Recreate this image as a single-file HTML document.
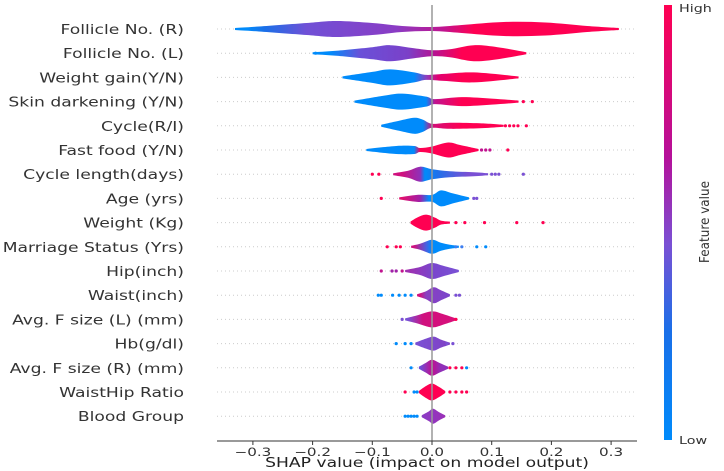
<!DOCTYPE html>
<html><head><meta charset="utf-8"><style>
body{margin:0;background:#fff}
svg{display:block;font-family:"DejaVu Sans","Liberation Sans",sans-serif}
</style></head><body>
<svg id="chart" width="724" height="471" viewBox="0 0 724 471" xmlns="http://www.w3.org/2000/svg">
<defs>
<linearGradient id="cbar" x1="0" y1="1" x2="0" y2="0">
<stop offset="0" stop-color="#008bfb"/><stop offset="0.25" stop-color="#1a6fe8"/><stop offset="0.45" stop-color="#7a50d4"/><stop offset="0.65" stop-color="#b5109a"/><stop offset="1" stop-color="#ff0052"/>
</linearGradient>
</defs>
<g id="grid"></g>
<g id="violins"></g>
<g id="axis"></g>
<rect x="664" y="5" width="8" height="435" fill="url(#cbar)"/>
<text transform="translate(679,12) scale(1.3,1)" font-size="11" fill="#333">High</text>
<text transform="translate(679,444) scale(1.3,1)" font-size="11" fill="#333">Low</text>
<text transform="translate(709,222) rotate(-90) scale(1,1.1)" text-anchor="middle" font-size="12" fill="#333">Feature value</text>
</svg>
<script>
const features=["Follicle No. (R)","Follicle No. (L)","Weight gain(Y/N)","Skin darkening (Y/N)","Cycle(R/I)","Fast food (Y/N)","Cycle length(days)","Age (yrs)","Weight (Kg)","Marriage Status (Yrs)","Hip(inch)","Waist(inch)","Avg. F size (L) (mm)","Hb(g/dl)","Avg. F size (R) (mm)","WaistHip Ratio","Blood Group"];
const ticks=[-0.3,-0.2,-0.1,0.0,0.1,0.2,0.3];
const tickLabels=["\u22120.3","\u22120.2","\u22120.1","0.0","0.1","0.2","0.3"];
// violin shapes: [shap value, half width px]
const shapes=[
[[-0.33,1],[-0.29,2.5],[-0.21,6],[-0.16,8],[-0.1,6],[-0.05,3],[0,2],[0.05,4],[0.12,7],[0.19,6.5],[0.26,3],[0.313,1]],
[[-0.2,1],[-0.16,2.5],[-0.1,6],[-0.07,8],[-0.03,5],[0,3],[0.03,4],[0.07,8],[0.11,6],[0.158,1]],
[[-0.15,1],[-0.1,5.5],[-0.07,8],[-0.03,5],[-0.01,2.5],[0.02,3.5],[0.07,5],[0.145,1]],
[[-0.13,1],[-0.08,6],[-0.05,8],[-0.01,5],[0.005,2.5],[0.05,4.5],[0.1,3],[0.145,1]],
[[-0.085,1],[-0.055,5],[-0.03,8],[-0.015,6],[0,2],[0.03,3],[0.08,2.5],[0.12,1]],
[[-0.11,1],[-0.06,4],[-0.03,4],[-0.02,2],[0,3.5],[0.027,7.5],[0.047,5],[0.078,1]],
[[-0.065,1],[-0.04,3.5],[-0.02,7.5],[0,5],[0.03,3],[0.07,2],[0.094,1]],
[[-0.055,1],[-0.025,3.5],[0,3.5],[0.015,8],[0.035,5],[0.062,1]],
[[-0.036,1],[-0.025,5],[-0.01,8],[0.005,5],[0.015,2],[0.03,1]],
[[-0.035,1],[-0.02,3],[0,7],[0.015,4],[0.03,2],[0.045,1]],
[[-0.045,1],[-0.02,4],[0,8],[0.02,5],[0.045,1]],
[[-0.025,1],[-0.01,4],[0.003,8],[0.015,5],[0.03,1]],
[[-0.045,1],[-0.025,4],[0,8],[0.02,5],[0.04,1]],
[[-0.028,1],[-0.01,5],[0.003,7],[0.015,4],[0.03,1]],
[[-0.022,1],[-0.01,5],[0,8],[0.012,5],[0.027,1]],
[[-0.022,1],[-0.01,6],[0,8.5],[0.012,5],[0.022,1]],
[[-0.017,1],[-0.005,5],[0.002,7.5],[0.012,4],[0.022,1]]
];
// color stops: [shap value, color]
const colorStops=[
[[-0.31,"#008bfb"],[-0.28,"#1a6fe8"],[-0.21,"#7050d6"],[-0.06,"#8a3cc4"],[0.02,"#c0148f"],[0.07,"#ff0052"]],
[[-0.17,"#008bfb"],[-0.12,"#6a50d8"],[-0.04,"#7b40c8"],[0.0,"#b01598"],[0.05,"#ff0052"]],
[[-0.03,"#008bfb"],[-0.01,"#8a40c0"],[0.01,"#e00070"],[0.05,"#ff0052"]],
[[-0.01,"#008bfb"],[0.005,"#c0148f"],[0.05,"#ff0052"]],
[[-0.015,"#008bfb"],[0,"#d0107a"],[0.05,"#ff0052"]],
[[-0.03,"#008bfb"],[-0.02,"#ff0052"]],
[[-0.05,"#d0107e"],[-0.02,"#9030b8"],[-0.012,"#008bfb"],[0.01,"#2070ea"],[0.06,"#7a50d4"]],
[[-0.05,"#e0106e"],[-0.02,"#a020a8"],[-0.005,"#008bfb"]],
[[-0.03,"#ff0052"],[0.03,"#ff0052"]],
[[-0.03,"#d0107e"],[-0.01,"#4a60e0"],[0,"#008bfb"]],
[[-0.04,"#a030b0"],[0,"#7a45cc"],[0.04,"#7a50d4"]],
[[-0.02,"#d0107e"],[-0.01,"#8a40c0"],[0.03,"#7a45cc"]],
[[-0.04,"#7a50d4"],[-0.015,"#d0107e"],[0.04,"#d8107a"]],
[[-0.025,"#7a50d4"],[0.03,"#8040c4"]],
[[-0.02,"#6a50d8"],[0,"#c01090"],[0.015,"#9030b8"]],
[[-0.02,"#ff0052"],[0.02,"#ff0052"]],
[[-0.017,"#8a3cc4"],[0.02,"#9a30b8"]]
];
// outlier dots: [shap value, color]
const dots=[
[],
[[-0.195,"#008bfb"]],
[],
[[0.153,"#ff0052"],[0.168,"#ff0052"]],
[[0.123,"#ff0052"],[0.13,"#ff0052"],[0.137,"#ff0052"],[0.144,"#ff0052"],[0.158,"#ff0052"]],
[[0.083,"#c0148f"],[0.09,"#c0148f"],[0.097,"#c0148f"],[0.127,"#ff0052"]],
[[-0.1,"#ff0052"],[-0.089,"#ff0052"],[0.1,"#7a50d4"],[0.106,"#7a50d4"],[0.112,"#7a50d4"],[0.153,"#7a50d4"]],
[[-0.085,"#ff0052"],[0.07,"#7a50d4"],[0.075,"#7a50d4"]],
[[0.04,"#ff0052"],[0.055,"#ff0052"],[0.088,"#ff0052"],[0.142,"#ff0052"],[0.186,"#ff0052"]],
[[-0.075,"#ff0052"],[-0.06,"#ff0052"],[-0.053,"#ff0052"],[0.04,"#3d7ef0"],[0.05,"#3d7ef0"],[0.075,"#008bfb"],[0.09,"#008bfb"]],
[[-0.085,"#c0148f"],[-0.067,"#a020a8"],[-0.06,"#a020a8"],[-0.05,"#c0148f"]],
[[-0.09,"#008bfb"],[-0.085,"#008bfb"],[-0.066,"#008bfb"],[-0.055,"#008bfb"],[-0.045,"#008bfb"],[-0.035,"#008bfb"],[0.04,"#7a50d4"],[0.046,"#7a50d4"]],
[[-0.05,"#7a50d4"],[0.04,"#ff0052"]],
[[-0.06,"#008bfb"],[-0.045,"#008bfb"],[-0.035,"#008bfb"],[0.025,"#7a50d4"],[0.035,"#7a50d4"]],
[[-0.035,"#008bfb"],[0.03,"#ff0052"],[0.04,"#ff0052"],[0.05,"#ff0052"],[0.058,"#008bfb"]],
[[-0.045,"#ff0052"],[-0.03,"#008bfb"],[-0.025,"#008bfb"],[0.03,"#ff0052"],[0.04,"#ff0052"],[0.05,"#ff0052"],[0.058,"#ff0052"]],
[[-0.045,"#008bfb"],[-0.04,"#008bfb"],[-0.035,"#008bfb"],[-0.03,"#008bfb"],[-0.025,"#008bfb"]]
];
const NS="http://www.w3.org/2000/svg";
const X0=432,SC=597,Y0=29,DY=24.2,L=217,R=637,AY=441,SX=1.32;
const xs=v=>X0+v*SC;
const ys=i=>Y0+i*DY;
function mk(tag,attrs,parent){const e=document.createElementNS(NS,tag);for(const k in attrs)e.setAttribute(k,attrs[k]);parent.appendChild(e);return e;}
const svg=document.getElementById('chart');
const defs=svg.querySelector('defs');
const grid=document.getElementById('grid'),vg=document.getElementById('violins'),ax=document.getElementById('axis');
function spline(pts){let d="M"+pts[0][0]+","+pts[0][1];for(let i=0;i<pts.length-1;i++){const p0=pts[i-1]||pts[i],p1=pts[i],p2=pts[i+1],p3=pts[i+2]||p2;const c1=[p1[0]+(p2[0]-p0[0])/6,p1[1]+(p2[1]-p0[1])/6],c2=[p2[0]-(p3[0]-p1[0])/6,p2[1]-(p3[1]-p1[1])/6];d+="C"+c1[0].toFixed(2)+","+c1[1].toFixed(2)+" "+c2[0].toFixed(2)+","+c2[1].toFixed(2)+" "+p2[0].toFixed(2)+","+p2[1].toFixed(2);}return d;}
features.forEach((f,i)=>{
const y=ys(i);
const gl=mk('line',{x1:L,x2:R,y1:y,y2:y,stroke:'#ccc','stroke-width':1,'stroke-dasharray':'1,3'},grid);


const lab=mk('text',{transform:'translate(184,'+(y+5)+') scale('+SX+',1)','text-anchor':'end','font-size':13,fill:'#333'},svg);
lab.textContent=f;


const gid='g'+i;
const lg=mk('linearGradient',{id:gid,gradientUnits:'userSpaceOnUse',x1:xs(colorStops[i][0][0]),x2:xs(colorStops[i][colorStops[i].length-1][0]),y1:0,y2:0},defs);
const a=colorStops[i][0][0],b=colorStops[i][colorStops[i].length-1][0];
colorStops[i].forEach(s=>mk('stop',{offset:b===a?0:(s[0]-a)/(b-a),'stop-color':s[1]},lg));
const top=shapes[i].map(p=>[xs(p[0]),y-p[1]]);
const bot=shapes[i].slice().reverse().map(p=>[xs(p[0]),y+p[1]]);
const d=spline(top)+"L"+spline(bot).slice(1)+"Z";
const v=mk('path',{d:d,fill:'url(#'+gid+')'},vg);


dots[i].forEach(p=>{
const c=mk('circle',{cx:xs(p[0]),cy:y,r:1.6,fill:p[1]},vg);


});
});
const zl=mk('line',{x1:X0,x2:X0,y1:5,y2:AY,stroke:'#999','stroke-width':1.5},vg);


const al=mk('line',{x1:L,x2:R,y1:AY,y2:AY,stroke:'#333','stroke-width':1},ax);


ticks.forEach((t,k)=>{
const tl=mk('line',{x1:xs(t),x2:xs(t),y1:AY,y2:AY+4,stroke:'#333'},ax);


const tt=mk('text',{transform:'translate('+xs(t)+','+(AY+15)+') scale('+SX+',1)','text-anchor':'middle','font-size':11.5,fill:'#333'},ax);
tt.textContent=tickLabels[k];


});
const xt=mk('text',{transform:'translate(427,467) scale('+SX+',1)','text-anchor':'middle','font-size':13,fill:'#222'},ax);
xt.textContent="SHAP value (impact on model output)";


</script>
</body></html>
